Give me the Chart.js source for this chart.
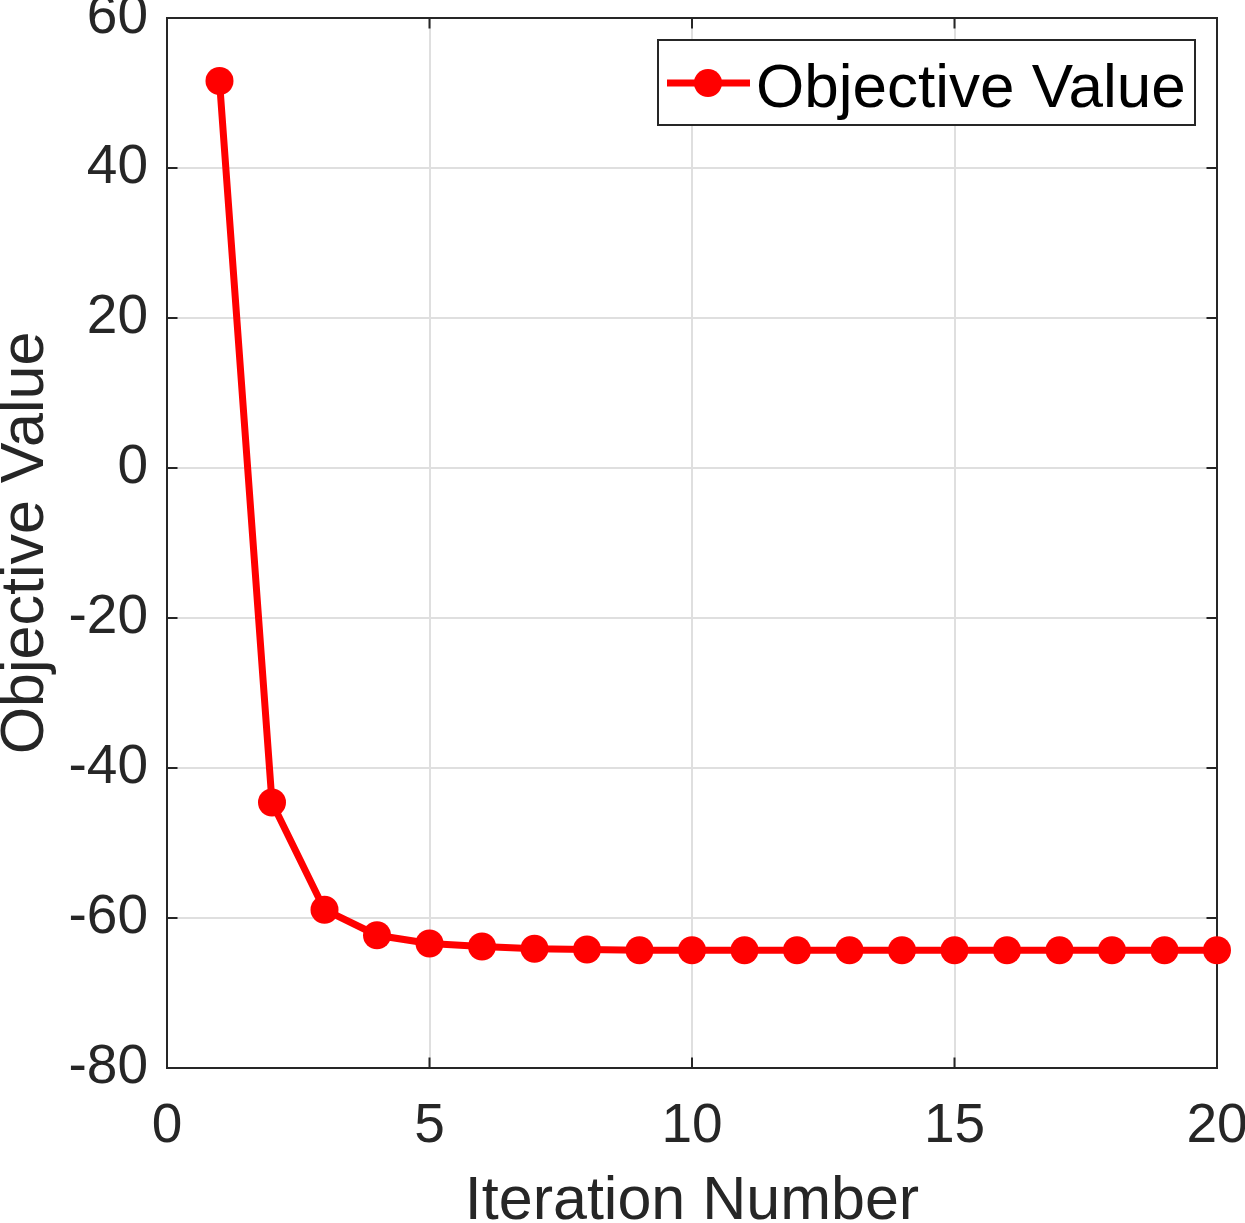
<!DOCTYPE html>
<html>
<head>
<meta charset="utf-8">
<script src="https://cdn.jsdelivr.net/npm/chart.js@4/dist/chart.umd.min.js"></script>
<style>
  html, body { margin: 0; padding: 0; background: #fff; }
  canvas { display: block; }
</style>
</head>
<body>
<canvas id="objChart" width="1245" height="1223"></canvas>
<script>
// Data
const iterations = [1, 2, 3, 4, 5, 6, 7, 8, 9, 10, 11, 12, 13, 14, 15, 16, 17, 18, 19, 20];
const objectiveValues = [51.6, -44.6, -58.9, -62.3, -63.4, -63.8, -64.1, -64.2, -64.3, -64.3,
                         -64.3, -64.3, -64.3, -64.3, -64.3, -64.3, -64.3, -64.3, -64.3, -64.3];
const xTicks = [0, 5, 10, 15, 20];
const yTicks = [-80, -60, -40, -20, 0, 20, 40, 60];
const seriesLabel = "Objective Value";

const axisColor = "#262626";
const gridColor = "#dfdfdf";
const lineColor = "#ff0000";
const fontFamily = "'Liberation Sans', Arial, Helvetica, sans-serif";

// Box frame + inward ticks on all four sides (drawn under the data)
const frameAndLegend = {
    id: "frameAndLegend",
    beforeDatasetsDraw(chart) {
        const { ctx, chartArea: a, scales: { x, y } } = chart;
        const len = 10.5;
        ctx.save();
        ctx.strokeStyle = axisColor;
        ctx.lineWidth = 2;
        ctx.strokeRect(a.left, a.top, a.right - a.left, a.bottom - a.top);
        ctx.beginPath();
        xTicks.forEach(v => {
            const px = x.getPixelForValue(v);
            ctx.moveTo(px, a.bottom); ctx.lineTo(px, a.bottom - len);
            ctx.moveTo(px, a.top); ctx.lineTo(px, a.top + len);
        });
        yTicks.forEach(v => {
            const py = y.getPixelForValue(v);
            ctx.moveTo(a.left, py); ctx.lineTo(a.left + len, py);
            ctx.moveTo(a.right, py); ctx.lineTo(a.right - len, py);
        });
        ctx.stroke();
        ctx.restore();
    },
    afterDraw(chart) {
        // legend box in the upper right corner of the axes
        const { ctx, chartArea: a } = chart;
        const w = 537, h = 85;
        const bx = a.right - 22 - w, by = a.top + 22;
        ctx.save();
        ctx.fillStyle = "#fff";
        ctx.fillRect(bx, by, w, h);
        ctx.strokeStyle = axisColor;
        ctx.lineWidth = 2;
        ctx.strokeRect(bx, by, w, h);
        const ly = by + 43;
        ctx.strokeStyle = lineColor;
        ctx.lineWidth = 7;
        ctx.beginPath();
        ctx.moveTo(bx + 9, ly);
        ctx.lineTo(bx + 92, ly);
        ctx.stroke();
        ctx.fillStyle = lineColor;
        ctx.beginPath();
        ctx.arc(bx + 50, ly, 14, 0, Math.PI * 2);
        ctx.fill();
        ctx.fillStyle = "#000";
        ctx.font = "62px " + fontFamily;
        ctx.textBaseline = "alphabetic";
        ctx.fillText(seriesLabel, bx + 98, by + 67);
        ctx.restore();
    }
};

const ctx = document.getElementById("objChart").getContext("2d");
new Chart(ctx, {
    type: "line",
    data: {
        datasets: [{
            label: seriesLabel,
            data: iterations.map((it, i) => ({ x: it, y: objectiveValues[i] })),
            borderColor: lineColor,
            backgroundColor: lineColor,
            borderWidth: 7,
            pointRadius: 14,
            pointBorderWidth: 0,
            pointBackgroundColor: lineColor,
            tension: 0,
            clip: false
        }]
    },
    options: {
        responsive: false,
        animation: false,
        devicePixelRatio: 1,
        layout: { padding: { top: 18, right: 28, left: 0, bottom: 0 } },
        plugins: {
            legend: { display: false },
            tooltip: { enabled: false }
        },
        scales: {
            x: {
                type: "linear",
                min: 0,
                max: 20,
                afterBuildTicks: scale => { scale.ticks = xTicks.map(v => ({ value: v })); },
                afterFit: scale => {
                    scale.height = 155;
                    scale.paddingLeft = 0; scale.paddingRight = 0;
                },
                grid: { color: gridColor, lineWidth: 2, drawTicks: false },
                border: { display: false },
                ticks: {
                    color: axisColor,
                    font: { family: fontFamily, size: 55 },
                    padding: 26,
                    maxRotation: 0,
                    autoSkip: false
                },
                title: {
                    display: true,
                    text: "Iteration Number",
                    color: axisColor,
                    font: { family: fontFamily, size: 61, lineHeight: 0.68 },
                    padding: 0
                }
            },
            y: {
                type: "linear",
                min: -80,
                max: 60,
                afterBuildTicks: scale => { scale.ticks = yTicks.map(v => ({ value: v })); },
                afterFit: scale => {
                    scale.width = 167;
                    scale.paddingTop = 0; scale.paddingBottom = 0;
                },
                grid: { color: gridColor, lineWidth: 2, drawTicks: false },
                border: { display: false },
                ticks: {
                    color: axisColor,
                    font: { family: fontFamily, size: 55 },
                    padding: 19,
                    autoSkip: false
                },
                title: {
                    display: true,
                    text: "Objective Value",
                    color: axisColor,
                    font: { family: fontFamily, size: 61, lineHeight: 0.86 },
                    padding: 0
                }
            }
        }
    },
    plugins: [frameAndLegend]
});
</script>
</body>
</html>
